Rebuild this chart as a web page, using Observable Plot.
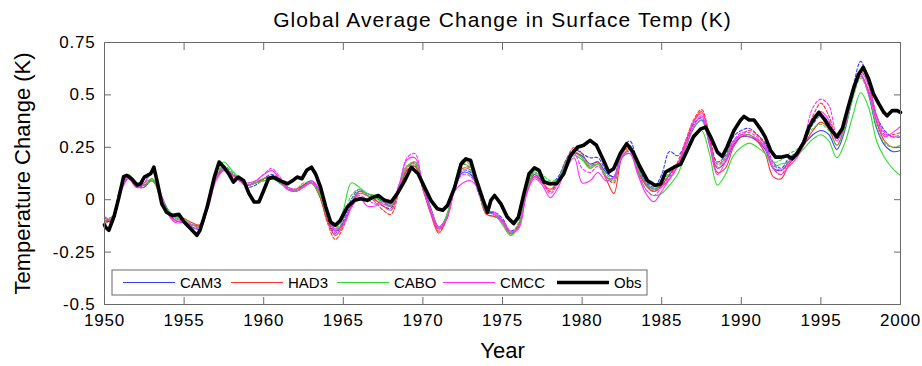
<!DOCTYPE html>
<html>
<head>
<meta charset="utf-8">
<script src="https://cdn.jsdelivr.net/npm/d3@7"></script>
<script src="https://cdn.jsdelivr.net/npm/@observablehq/plot@0.6"></script>
<style>
  html, body { margin: 0; padding: 0; background: #fff; }
  #chart { width: 922px; height: 366px; }
  #chart svg text { font-family: "Liberation Sans", Arial, Helvetica, sans-serif; }
  .tick-label text { letter-spacing: 0.8px; }
  .chart-title text { letter-spacing: 1.1px; }
</style>
</head>
<body>
<div id="chart"></div>
<script>
// ---- axis ticks -----------------------------------------------------------
const xTicks = [1950, 1955, 1960, 1965, 1970, 1975, 1980, 1985, 1990, 1995, 2000];
const yTicks = [-0.5, -0.25, 0, 0.25, 0.5, 0.75];
const yTickLabels = ["-0.5", "-0.25", "0", "0.25", "0.5", "0.75"];

// ---- model runs, sampled every half year from 1950 to 2000 -------------------
const modelYears = d3.range(0, 101).map(i => 1950 + i / 2);

const cam3Run1 = [
  -0.10,-0.10,0.04,0.11,0.06,0.07,0.09,0.03,-0.05,-0.09,
  -0.10,-0.13,-0.14,-0.03,0.10,0.15,0.12,0.10,0.07,0.08,
  0.10,0.11,0.08,0.06,0.04,0.07,0.09,0.04,-0.07,-0.15,
  -0.11,-0.02,0.04,0.03,0.01,-0.01,-0.03,0.05,0.14,0.16,
  0.07,-0.04,-0.13,-0.08,0.06,0.13,0.12,0.05,-0.05,-0.07,
  -0.10,-0.16,-0.13,0.03,0.12,0.09,0.07,0.10,0.18,0.22,
  0.21,0.17,0.18,0.13,0.11,0.24,0.26,0.16,0.08,0.05,
  0.07,0.12,0.17,0.25,0.34,0.38,0.27,0.15,0.18,0.26,
  0.30,0.30,0.28,0.24,0.15,0.14,0.18,0.22,0.27,0.31,
  0.33,0.31,0.24,0.33,0.49,0.60,0.50,0.34,0.26,0.23,
  0.235];
const cam3Run2 = [
  -0.09,-0.08,0.06,0.12,0.07,0.06,0.10,0.02,-0.06,-0.10,
  -0.11,-0.12,-0.12,0.00,0.12,0.16,0.13,0.09,0.06,0.07,
  0.10,0.12,0.10,0.05,0.04,0.06,0.08,0.02,-0.09,-0.16,
  -0.10,0.00,0.05,0.02,0.00,-0.03,-0.04,0.07,0.16,0.17,
  0.05,-0.06,-0.14,-0.09,0.06,0.14,0.13,0.03,-0.06,-0.06,
  -0.09,-0.15,-0.12,0.05,0.13,0.10,0.08,0.11,0.19,0.24,
  0.22,0.20,0.20,0.14,0.11,0.24,0.28,0.17,0.09,0.06,
  0.12,0.23,0.21,0.27,0.36,0.39,0.29,0.18,0.21,0.30,
  0.33,0.34,0.31,0.27,0.18,0.15,0.20,0.23,0.29,0.36,
  0.40,0.37,0.29,0.37,0.53,0.66,0.55,0.40,0.33,0.30,
  0.30];
const had3Run1 = [
  -0.10,-0.09,0.05,0.11,0.07,0.07,0.09,0.02,-0.06,-0.08,
  -0.09,-0.11,-0.12,-0.03,0.10,0.14,0.12,0.09,0.07,0.08,
  0.10,0.11,0.10,0.06,0.05,0.07,0.08,0.02,-0.10,-0.17,
  -0.12,-0.03,0.03,0.02,0.00,-0.03,-0.05,0.05,0.14,0.16,
  0.05,-0.07,-0.16,-0.09,0.07,0.15,0.14,0.04,-0.07,-0.08,
  -0.10,-0.16,-0.13,0.03,0.11,0.08,0.05,0.09,0.18,0.23,
  0.20,0.15,0.17,0.10,0.03,0.20,0.24,0.14,0.07,0.04,
  0.06,0.10,0.16,0.27,0.37,0.42,0.29,0.13,0.15,0.25,
  0.30,0.31,0.28,0.22,0.11,0.10,0.17,0.21,0.27,0.33,
  0.37,0.34,0.26,0.35,0.50,0.59,0.52,0.37,0.28,0.25,
  0.25];
const had3Run2 = [
  -0.11,-0.10,0.04,0.10,0.06,0.06,0.10,0.01,-0.07,-0.10,
  -0.11,-0.12,-0.13,-0.02,0.11,0.15,0.11,0.09,0.07,0.08,
  0.09,0.10,0.09,0.05,0.04,0.06,0.08,0.02,-0.11,-0.19,
  -0.13,-0.03,0.04,0.02,-0.01,-0.05,-0.07,0.04,0.15,0.18,
  0.06,-0.06,-0.15,-0.09,0.06,0.17,0.15,0.04,-0.07,-0.08,
  -0.11,-0.17,-0.12,0.04,0.12,0.08,0.04,0.09,0.19,0.25,
  0.22,0.16,0.18,0.11,0.08,0.22,0.25,0.15,0.07,0.04,
  0.07,0.12,0.18,0.28,0.38,0.43,0.31,0.17,0.20,0.28,
  0.31,0.33,0.31,0.26,0.15,0.12,0.19,0.23,0.30,0.40,
  0.46,0.40,0.30,0.38,0.52,0.61,0.55,0.40,0.31,0.31,
  0.32];
const caboRun1 = [
  -0.09,-0.09,0.05,0.12,0.08,0.08,0.10,0.03,-0.06,-0.09,
  -0.10,-0.12,-0.13,-0.01,0.13,0.18,0.14,0.10,0.07,0.08,
  0.09,0.10,0.08,0.05,0.04,0.06,0.08,0.03,-0.08,-0.14,
  -0.05,0.08,0.06,0.03,0.02,-0.01,-0.02,0.06,0.16,0.17,
  0.06,-0.05,-0.14,-0.07,0.08,0.19,0.16,0.05,-0.06,-0.07,
  -0.12,-0.17,-0.13,0.03,0.13,0.10,0.08,0.10,0.17,0.21,
  0.19,0.15,0.17,0.11,0.09,0.21,0.22,0.13,0.05,0.02,
  0.03,0.07,0.12,0.22,0.31,0.33,0.22,0.07,0.12,0.21,
  0.25,0.27,0.25,0.22,0.16,0.17,0.18,0.21,0.25,0.29,
  0.31,0.28,0.20,0.27,0.40,0.51,0.44,0.28,0.20,0.15,
  0.115];
const caboRun2 = [
  -0.10,-0.08,0.05,0.11,0.07,0.07,0.09,0.02,-0.05,-0.08,
  -0.09,-0.12,-0.12,-0.02,0.11,0.16,0.13,0.10,0.08,0.09,
  0.10,0.10,0.09,0.06,0.05,0.08,0.08,0.03,-0.07,-0.14,
  -0.09,0.02,0.05,0.02,0.01,-0.02,-0.03,0.06,0.16,0.18,
  0.06,-0.05,-0.13,-0.08,0.07,0.17,0.14,0.04,-0.06,-0.07,
  -0.11,-0.16,-0.11,0.05,0.14,0.12,0.09,0.10,0.18,0.22,
  0.20,0.16,0.17,0.12,0.10,0.22,0.24,0.15,0.08,0.05,
  0.08,0.13,0.17,0.25,0.34,0.38,0.27,0.16,0.20,0.28,
  0.31,0.31,0.29,0.25,0.18,0.19,0.22,0.24,0.29,0.34,
  0.36,0.33,0.26,0.34,0.48,0.58,0.50,0.35,0.27,0.25,
  0.26];
const cmccRun1 = [
  -0.08,-0.10,0.03,0.10,0.06,0.08,0.14,0.04,-0.07,-0.11,
  -0.11,-0.14,-0.12,-0.04,0.09,0.14,0.12,0.09,0.07,0.09,
  0.12,0.14,0.10,0.05,0.04,0.06,0.09,0.05,-0.06,-0.14,
  -0.12,-0.04,0.01,-0.03,-0.03,-0.01,-0.02,0.07,0.19,0.20,
  0.07,-0.06,-0.14,-0.09,0.04,0.08,0.09,0.05,-0.05,-0.06,
  -0.10,-0.15,-0.14,0.02,0.10,0.07,0.01,0.06,0.15,0.20,
  0.08,0.09,0.13,0.09,0.11,0.20,0.22,0.12,0.03,-0.01,
  0.04,0.10,0.16,0.25,0.35,0.40,0.26,0.12,0.18,0.27,
  0.31,0.30,0.29,0.25,0.15,0.12,0.16,0.20,0.28,0.38,
  0.42,0.38,0.28,0.36,0.50,0.59,0.51,0.38,0.30,0.32,
  0.35];
const cmccRun2 = [
  -0.09,-0.09,0.04,0.11,0.07,0.08,0.13,0.03,-0.07,-0.10,
  -0.10,-0.12,-0.12,-0.02,0.10,0.15,0.12,0.09,0.08,0.09,
  0.12,0.15,0.11,0.06,0.05,0.06,0.08,0.04,-0.07,-0.15,
  -0.11,-0.03,0.02,0.00,-0.02,-0.02,-0.03,0.06,0.20,0.22,
  0.06,-0.05,-0.13,-0.09,0.05,0.12,0.11,0.04,-0.06,-0.07,
  -0.11,-0.16,-0.13,0.03,0.11,0.08,0.03,0.08,0.17,0.22,
  0.15,0.13,0.16,0.11,0.10,0.21,0.23,0.13,0.05,0.02,
  0.06,0.11,0.17,0.28,0.37,0.41,0.29,0.15,0.19,0.28,
  0.32,0.32,0.30,0.26,0.17,0.14,0.18,0.22,0.31,0.44,
  0.48,0.45,0.31,0.38,0.51,0.61,0.54,0.40,0.32,0.30,
  0.31];

// ---- observed record --------------------------------------------------------
const obsYears = [
  1950.0,1950.06,1950.27,1950.6,1950.9,1951.2,1951.4,1951.7,1952.05,1952.26,
  1952.5,1952.9,1953.1,1953.3,1953.6,1953.9,1954.25,1954.67,1955.0,1955.4,
  1955.8,1956.0,1956.45,1956.9,1957.2,1957.5,1957.8,1958.1,1958.4,1958.75,
  1959.07,1959.4,1959.7,1960.0,1960.3,1960.6,1961.05,1961.5,1961.8,1962.1,
  1962.4,1962.7,1963.0,1963.25,1963.57,1963.9,1964.2,1964.5,1964.8,1965.25,
  1965.7,1966.1,1966.5,1966.9,1967.2,1967.6,1968.0,1968.4,1968.85,1969.27,
  1969.7,1970.1,1970.5,1970.9,1971.25,1971.55,1972.0,1972.4,1972.7,1973.0,
  1973.3,1973.75,1974.06,1974.27,1974.5,1974.9,1975.3,1975.7,1976.0,1976.35,
  1976.67,1977.0,1977.3,1977.6,1978.0,1978.4,1978.85,1979.27,1979.7,1980.1,
  1980.5,1980.9,1981.35,1981.67,1981.98,1982.4,1982.8,1983.2,1983.65,1984.1,
  1984.6,1984.94,1985.25,1985.77,1986.2,1986.6,1987.0,1987.45,1987.76,1988.07,
  1988.5,1988.8,1989.1,1989.54,1989.96,1990.17,1990.5,1990.8,1991.2,1991.5,
  1991.84,1992.15,1992.47,1992.9,1993.2,1993.5,1993.93,1994.25,1994.56,1994.87,
  1995.2,1995.6,1996.0,1996.34,1996.65,1997.07,1997.38,1997.66,1998.0,1998.3,
  1998.64,1998.95,1999.16,1999.48,1999.8,2000.0];
const obsValues = [
  -0.12,-0.13,-0.146,-0.08,0.01,0.11,0.116,0.10,0.07,0.076,
  0.108,0.124,0.155,0.09,-0.02,-0.06,-0.075,-0.07,-0.106,-0.138,
  -0.17,-0.146,-0.035,0.108,0.18,0.155,0.124,0.084,0.108,0.09,
  0.03,-0.011,-0.011,0.044,0.10,0.108,0.09,0.076,0.09,0.108,
  0.10,0.14,0.155,0.124,0.06,-0.035,-0.106,-0.122,-0.10,-0.035,
  -0.003,0.005,-0.003,0.013,0.02,-0.003,-0.011,0.03,0.09,0.155,
  0.124,0.06,-0.003,-0.043,-0.05,-0.027,0.06,0.17,0.195,0.187,
  0.108,0.005,-0.06,-0.003,0.02,-0.02,-0.083,-0.114,-0.083,0.03,
  0.124,0.152,0.14,0.084,0.076,0.076,0.124,0.21,0.25,0.26,
  0.283,0.26,0.187,0.132,0.148,0.22,0.267,0.227,0.155,0.092,
  0.068,0.076,0.132,0.155,0.17,0.235,0.30,0.338,0.346,0.30,
  0.227,0.206,0.25,0.33,0.38,0.397,0.38,0.38,0.338,0.30,
  0.235,0.203,0.203,0.21,0.195,0.22,0.275,0.346,0.386,0.417,
  0.386,0.338,0.30,0.338,0.425,0.537,0.60,0.632,0.576,0.505,
  0.457,0.417,0.40,0.425,0.425,0.417];

// ---- series definitions --------------------------------------------------------
const modelNames = ["CAM3", "HAD3", "CABO", "CMCC"];
const modelColors = ["#3b3bff", "#ff3030", "#2fdc2f", "#ff30ff"];
const modelRuns = [
  {model: "CAM3", run: 1, values: cam3Run1},
  {model: "CAM3", run: 2, values: cam3Run2},
  {model: "HAD3", run: 1, values: had3Run1},
  {model: "HAD3", run: 2, values: had3Run2},
  {model: "CABO", run: 1, values: caboRun1},
  {model: "CABO", run: 2, values: caboRun2},
  {model: "CMCC", run: 1, values: cmccRun1},
  {model: "CMCC", run: 2, values: cmccRun2}
];
const colorOf = m => modelColors[modelNames.indexOf(m)];

const modelRows = modelRuns.flatMap(r =>
  r.values.map((v, i) => ({year: modelYears[i], value: v, model: r.model, run: r.run}))
);
const obsRows = obsYears.map((y, i) => ({year: y, value: obsValues[i]}));

// ---- chart ------------------------------------------------------------------
const axisColor = "#6a6a6a";
const runMarks = modelRuns.map(r =>
  Plot.line(modelRows.filter(d => d.model === r.model && d.run === r.run), {
    x: "year", y: "value",
    stroke: colorOf(r.model),
    strokeWidth: 1.1,
    strokeDasharray: r.run === 2 ? "3,2" : null,
    curve: "catmull-rom"
  })
);

const chart = Plot.plot({
  width: 922,
  height: 366,
  marginLeft: 104,
  marginRight: 22,
  marginTop: 42,
  marginBottom: 62,
  style: {fontSize: "17px", color: "#000", background: "#fff", overflow: "visible"},
  x: {domain: [1950, 2000], label: null},
  y: {domain: [-0.5, 0.75], label: null},
  marks: [
    ...runMarks,
    Plot.line(obsRows, {x: "year", y: "value", stroke: "#000", strokeWidth: 3.6, strokeLinejoin: "round"}),
    Plot.frame({stroke: axisColor, strokeWidth: 1}),
    Plot.axisX(xTicks, {anchor: "bottom", tickSize: -7, tickPadding: 16, stroke: axisColor,
      tickFormat: d => String(d), fill: "#000", className: "tick-label"}),
    Plot.axisX(xTicks, {anchor: "top", tickSize: -7, stroke: axisColor, tickFormat: () => ""}),
    Plot.axisY(yTicks, {anchor: "left", tickSize: -7, tickPadding: 16, stroke: axisColor,
      tickFormat: d => yTickLabels[yTicks.indexOf(d)], fill: "#000", className: "tick-label"}),
    Plot.axisY(yTicks, {anchor: "right", tickSize: -7, stroke: axisColor, tickFormat: () => ""}),
    Plot.text(["Global Average Change in Surface Temp (K)"], {
      frameAnchor: "top", dy: -22, lineAnchor: "middle", textAnchor: "middle",
      fontSize: 21, fill: "#000", className: "chart-title"
    }),
    Plot.text(["Year"], {
      frameAnchor: "bottom", dy: 46, lineAnchor: "middle", textAnchor: "middle", fontSize: 22, fill: "#000"
    }),
    Plot.text(["Temperature Change (K)"], {
      frameAnchor: "left", dx: -82, rotate: -90, lineAnchor: "middle", textAnchor: "middle",
      fontSize: 22, fill: "#000"
    })
  ]
});

document.getElementById("chart").appendChild(chart);

// ---- legend box inside the lower-left corner of the axes ----------------------
const legendItems = [
  ...modelNames.map(m => ({label: m, color: colorOf(m), width: 1.1})),
  {label: "Obs", color: "#000", width: 3.6}
];
const legendLayout = {left: 112, top: 270, width: 535, height: 25};
const entryStarts = [123, 231, 337, 443, 557];
const svg = d3.select(chart);
const lg = svg.append("g").attr("class", "legend");
lg.append("rect")
  .attr("x", legendLayout.left).attr("y", legendLayout.top)
  .attr("width", legendLayout.width).attr("height", legendLayout.height)
  .attr("fill", "#fff").attr("stroke", axisColor).attr("stroke-width", 1);
const cy = legendLayout.top + legendLayout.height / 2;
legendItems.forEach((it, i) => {
  const x0 = entryStarts[i];
  lg.append("line")
    .attr("x1", x0).attr("x2", x0 + 52).attr("y1", cy).attr("y2", cy)
    .attr("stroke", it.color).attr("stroke-width", it.width);
  lg.append("text")
    .attr("x", x0 + 57).attr("y", cy).attr("dy", "0.35em")
    .attr("text-anchor", "start")
    .attr("font-size", 15).attr("fill", "#000")
    .text(it.label);
});
</script>
</body>
</html>
